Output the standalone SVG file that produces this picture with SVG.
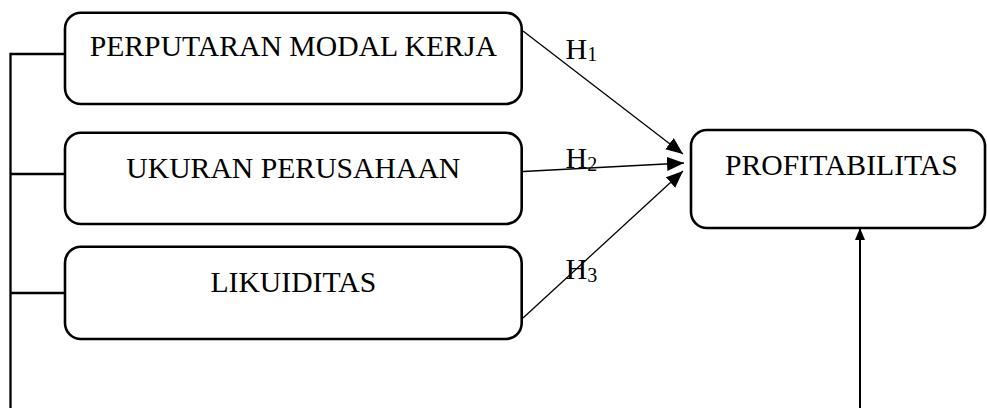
<svg xmlns="http://www.w3.org/2000/svg" width="987" height="408" viewBox="0 0 987 408">
  <style>
    .box { fill: #ffffff; stroke: #000000; stroke-width: 2.6; }
    .lbl { font-family: "Liberation Serif", "Times New Roman", serif; font-size: 29.7px; fill: #000000; }
    .hyp { font-family: "Liberation Serif", "Times New Roman", serif; font-size: 30px; fill: #000000; }
    .sub { font-size: 20px; }
    .tree { fill: none; stroke: #000000; stroke-width: 2.3; }
    .arrow { fill: none; stroke: #000000; stroke-width: 1.3; }
    .ctrl { fill: none; stroke: #000000; stroke-width: 2; }
  </style>
  <defs>
    <marker id="head" markerUnits="userSpaceOnUse" markerWidth="18" markerHeight="15" refX="17" refY="7" orient="auto">
      <path d="M0,0 L17,7 L0,14 z" fill="#000000"/>
    </marker>
    <marker id="headSmall" markerUnits="userSpaceOnUse" markerWidth="13" markerHeight="11" refX="12" refY="5" orient="auto">
      <path d="M0,0 L12,5 L0,10 z" fill="#000000"/>
    </marker>
  </defs>

  <!-- connectors -->
  <g id="connectors">
    <!-- bracket joining the three independent variables -->
    <path class="tree" d="M10.5,408 L10.5,54 L65,54"/>
    <line class="tree" x1="10.5" y1="174" x2="65" y2="174"/>
    <line class="tree" x1="10.5" y1="293" x2="65" y2="293"/>
    <!-- hypothesis arrows -->
    <line class="arrow" x1="523" y1="31" x2="683" y2="154" marker-end="url(#head)"/>
    <line class="arrow" x1="523" y1="171.5" x2="684" y2="163" marker-end="url(#head)"/>
    <line class="arrow" x1="523" y1="318" x2="683" y2="171" marker-end="url(#head)"/>
    <!-- control path into the dependent variable -->
    <line class="ctrl" x1="860" y1="408" x2="860" y2="228" marker-end="url(#headSmall)"/>
  </g>

  <g id="node-perputaran">
    <rect class="box" x="65" y="12.7" width="456.7" height="91.3" rx="16" ry="16"/>
    <text class="lbl" x="293.3" y="56" text-anchor="middle">PERPUTARAN MODAL KERJA</text>
  </g>

  <g id="node-ukuran">
    <rect class="box" x="65" y="132.7" width="456.7" height="91.3" rx="16" ry="16"/>
    <text class="lbl" x="293.3" y="178" text-anchor="middle">UKURAN PERUSAHAAN</text>
  </g>

  <g id="node-likuiditas">
    <rect class="box" x="65" y="246.7" width="456.7" height="92.3" rx="16" ry="16"/>
    <text class="lbl" x="293.3" y="292" text-anchor="middle">LIKUIDITAS</text>
  </g>

  <g id="node-profitabilitas">
    <rect class="box" x="691" y="130" width="294" height="98" rx="16" ry="16"/>
    <text class="lbl" x="725" y="175">PROFITABILITAS</text>
  </g>

  <!-- hypothesis labels -->
  <g id="labels">
    <text class="hyp" x="565.5" y="59">H<tspan class="sub" dy="2">1</tspan></text>
    <text class="hyp" x="565.5" y="168">H<tspan class="sub" dy="3">2</tspan></text>
    <text class="hyp" x="565.5" y="279">H<tspan class="sub" dy="3">3</tspan></text>
  </g>
</svg>
